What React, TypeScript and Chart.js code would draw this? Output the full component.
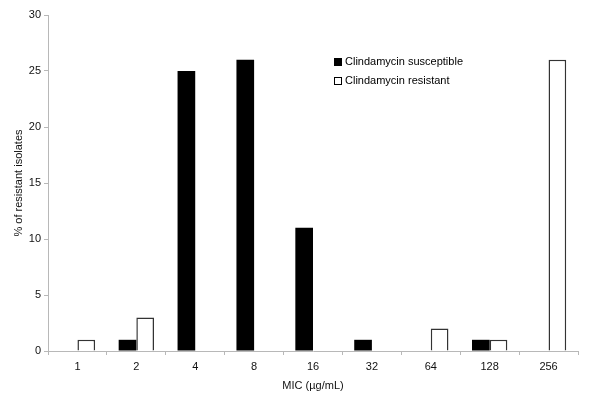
import React, { useEffect, useRef } from "react";
import { Chart, registerables } from "chart.js";

Chart.register(...registerables);

const categories = ["1", "2", "4", "8", "16", "32", "64", "128", "256"];
const susceptible = [0, 1, 25, 26, 11, 1, 0, 1, 0];
const resistant = [1, 3, 0, 0, 0, 0, 2, 1, 26];
const seriesNames = ["Clindamycin susceptible", "Clindamycin resistant"];
const yTicks = [0, 5, 10, 15, 20, 25, 30];

const FONT = "'Liberation Sans', Arial, sans-serif";

const legendPlugin = {
  id: "customLegend",
  afterDraw(chart: any) {
    const ctx = chart.ctx;
    const area = chart.chartArea;
    const x0 = area.left + 286;
    const y0 = area.top + 47;
    ctx.save();
    ctx.font = `11px ${FONT}`;
    ctx.textBaseline = "middle";
    ctx.textAlign = "left";
    chart.data.datasets.forEach((ds: any, i: number) => {
      const y = y0 + i * 19;
      ctx.fillStyle = ds.backgroundColor;
      ctx.fillRect(x0, y - 4, 8, 8);
      ctx.strokeStyle = "#000";
      ctx.lineWidth = 1;
      ctx.strokeRect(x0 + 0.5, y - 3.5, 7, 7);
      ctx.fillStyle = "#000";
      ctx.fillText(ds.label, x0 + 11, y);
    });
    ctx.restore();
  },
};

export default function App() {
  const ref = useRef<HTMLCanvasElement>(null);
  useEffect(() => {
    const chart = new Chart(ref.current!, {
      type: "bar",
      data: {
        labels: categories,
        datasets: [
          {
            label: seriesNames[0],
            data: susceptible,
            backgroundColor: "#000000",
            borderColor: "#000000",
            borderWidth: 0,
          },
          {
            label: seriesNames[1],
            data: resistant,
            backgroundColor: "#ffffff",
            borderColor: "#333333",
            borderWidth: 1.5,
          },
        ],
      },
      options: {
        animation: false,
        responsive: false,
        maintainAspectRatio: false,
        layout: { padding: { top: 15, right: 22, left: 0, bottom: 0 } },
        datasets: {
          bar: { categoryPercentage: 0.6, barPercentage: 1 },
        },
        plugins: {
          legend: { display: false },
          tooltip: { enabled: false },
        },
        scales: {
          x: {
            afterFit: (s: any) => {
              s.height = 48;
            },
            grid: {
              drawOnChartArea: false,
              drawTicks: true,
              tickLength: 4,
              color: "#b8b8b8",
              offset: true,
            },
            border: { color: "#b8b8b8", width: 1 },
            ticks: {
              color: "#111",
              font: { family: FONT, size: 11 },
              padding: 5,
              maxRotation: 0,
            },
            title: {
              display: true,
              text: "MIC (µg/mL)",
              color: "#111",
              font: { family: FONT, size: 11 },
              padding: { top: 0, bottom: 6 },
            },
          },
          y: {
            min: 0,
            max: 30,
            afterFit: (s: any) => {
              s.width = 48;
            },
            afterBuildTicks: (s: any) => {
              s.ticks = yTicks.map((v) => ({ value: v }));
            },
            grid: {
              drawOnChartArea: false,
              drawTicks: true,
              tickLength: 4,
              color: "#b8b8b8",
            },
            border: { color: "#b8b8b8", width: 1 },
            ticks: {
              color: "#111",
              font: { family: FONT, size: 11 },
              padding: 3,
            },
            title: {
              display: true,
              text: "% of resistant isolates",
              color: "#111",
              font: { family: FONT, size: 11 },
              padding: { top: 12, bottom: 0 },
            },
          },
        },
      },
      plugins: [legendPlugin],
    });
    return () => chart.destroy();
  }, []);
  return (
    <div style={{ position: "fixed", left: 0, top: 0, width: 600, height: 399, background: "#fff" }}>
      <canvas ref={ref} width={600} height={399} style={{ width: 600, height: 399 }} />
    </div>
  );
}
